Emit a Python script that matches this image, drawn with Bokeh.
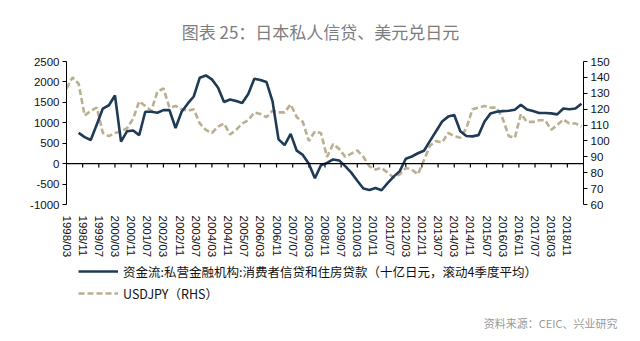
from bokeh.plotting import figure
from bokeh.layouts import column
from bokeh.models import (Range1d, LinearAxis, FixedTicker, Span, Label, Legend, LegendItem)
from bokeh.embed import file_html
from bokeh.resources import INLINE

# ---------------- data ----------------
title_text = "图表 25：日本私人信贷、美元兑日元"
source_text = "资料来源：CEIC、兴业研究"
series1_name = "资金流:私营金融机构:消费者信贷和住房贷款（十亿日元，滚动4季度平均）"
series2_name = "USDJPY（RHS）"

tick_labels = ["1998/03", "1998/11", "1999/07", "2000/03", "2000/11", "2001/07",
               "2002/03", "2002/11", "2003/07", "2004/03", "2004/11", "2005/07",
               "2006/03", "2006/11", "2007/07", "2008/03", "2008/11", "2009/07",
               "2010/03", "2010/11", "2011/07", "2012/03", "2012/11", "2013/07",
               "2014/03", "2014/11", "2015/07", "2016/03", "2016/11", "2017/07",
               "2018/03", "2018/11"]

# quarterly observations, months since 1998/03
usdjpy_start_month = 0
credit_start_month = 6

usdjpy = [133, 140, 136, 116, 119, 121, 105, 103, 105, 106,
          108, 114, 125, 122, 119, 131, 133, 121, 122, 120,
          119, 120, 111, 107, 105, 109, 111, 104, 107, 111,
          113, 118, 117, 115, 119, 118, 118, 123, 115, 112,
          100, 106, 105, 90, 98, 95, 90, 92, 94, 90,
          84, 82, 83, 80, 77, 79, 83, 82, 79, 88,
          97, 100, 99, 105, 103, 102, 108, 120, 121, 122,
          121, 121, 114, 103, 102, 117, 112, 112, 113, 113,
          107, 110, 113.5, 111, 111, 109]

credit = [754, 650, 579, 960, 1349, 1429, 1667, 540, 794, 810,
          698, 1270, 1270, 1246, 1310, 1310, 873, 1270, 1468, 1643,
          2103, 2159, 2063, 1865, 1508, 1571, 1532, 1484, 1706, 2079,
          2048, 2000, 1530, 595, 452, 730, 317, 214, 0, -357,
          -40, 16, 103, 79, -60, -220, -420, -610, -645, -595,
          -651, -476, -317, -183, 119, 175, 254, 317, 556, 794,
          1032, 1151, 1190, 794, 675, 667, 698, 1032, 1230, 1270,
          1286, 1294, 1320, 1444, 1325, 1286, 1238, 1238, 1230, 1206,
          1349, 1333, 1349, 1468]

left_ticks = [-1000, -500, 0, 500, 1000, 1500, 2000, 2500]
right_ticks = [60, 70, 80, 90, 100, 110, 120, 130, 140, 150]

# ---------------- geometry ----------------
W = 640
H_TITLE, H_MAIN, H_LEG = 50, 210, 81
FL, FR = 66, 583            # frame left/right (px)
FT_LOCAL, FH = 11, 147      # frame top inside main figure, frame height
X0, X1 = 0, 256
Y0, Y1 = -1000, 2500

x_usd = [usdjpy_start_month + 3 * i for i in range(len(usdjpy))]
x_cr = [credit_start_month + 3 * i for i in range(len(credit))]
tick_pos = [8 * i for i in range(len(tick_labels))]

BLUE = "#1f3a55"
TAN = "#bbaf91"
FONT = "Liberation Sans"
CJK = "Noto Sans CJK SC"
NAN = float("nan")


def blank_fig(h):
    # frame covers the whole strip; x data == page pixels
    f = figure(width=W, height=h, x_range=Range1d(0, W), y_range=Range1d(0, h),
               output_backend="svg", toolbar_location=None,
               x_axis_type=None, y_axis_type=None,
               min_border_left=0, min_border_right=0, min_border_top=0,
               min_border_bottom=0, frame_align=False)
    f.outline_line_color = None
    f.xgrid.visible = False
    f.ygrid.visible = False
    return f


# ---------------- title ----------------
ft = blank_fig(H_TITLE)
ft.add_layout(Label(x=W / 2, y=H_TITLE - 31, text=title_text,
                    text_align="center", text_baseline="middle",
                    text_font=CJK, text_font_size="17px", text_color="#7d7d7d"))

# ---------------- main chart ----------------
p = figure(width=W, height=H_MAIN, x_range=Range1d(X0, X1), y_range=Range1d(Y0, Y1),
           output_backend="svg", toolbar_location=None,
           min_border_left=FL, min_border_right=W - FR,
           min_border_top=FT_LOCAL, min_border_bottom=H_MAIN - FT_LOCAL - FH)
p.extra_y_ranges = {"rhs": Range1d(right_ticks[0], right_ticks[-1])}
p.outline_line_color = None
p.xgrid.visible = False
p.ygrid.visible = False

ya = p.yaxis[0]
ya.ticker = FixedTicker(ticks=left_ticks)
ya.major_label_overrides = {t: str(t) for t in left_ticks}
ra = LinearAxis(y_range_name="rhs", ticker=FixedTicker(ticks=right_ticks))
p.add_layout(ra, "right")
for ax in (ya, ra):
    ax.axis_line_color = "black"
    ax.major_tick_line_color = "black"
    ax.major_tick_in = 0
    ax.major_tick_out = 4
    ax.minor_tick_line_color = None
    ax.major_label_text_font = FONT
    ax.major_label_text_font_size = "11.5px"
    ax.major_label_text_color = "#111111"
    ax.major_label_standoff = 3

xa = p.xaxis[0]
xa.ticker = FixedTicker(ticks=tick_pos)
xa.major_label_overrides = {t: l for t, l in zip(tick_pos, tick_labels)}
xa.major_label_orientation = "vertical"
xa.axis_line_color = None
xa.major_tick_line_color = None
xa.minor_tick_line_color = None
xa.major_label_text_font = FONT
xa.major_label_text_font_size = "11.5px"
xa.major_label_text_color = "#111111"
xa.major_label_standoff = 5

# zero line with its tick marks
p.add_layout(Span(location=0, dimension="width", line_color="black", line_width=1.2))
tick_len = 4 * (Y1 - Y0) / FH
p.segment(x0=tick_pos[1:], y0=[0] * (len(tick_pos) - 1), x1=tick_pos[1:],
          y1=[-tick_len] * (len(tick_pos) - 1), line_color="black", line_width=1.2)

p.line(x_usd, usdjpy, y_range_name="rhs", line_color=TAN, line_width=2.6,
       line_dash="6 3")
p.line(x_cr, credit, line_color=BLUE, line_width=2.6)

# ---------------- legend + source ----------------
fl = blank_fig(H_LEG)
# legend proxies (draw nothing themselves)
lr1 = fl.line(x=[NAN], y=[NAN], line_color=BLUE, line_width=2.6)
lr2 = fl.line(x=[NAN], y=[NAN], line_color=TAN, line_width=2.6, line_dash="6 3")
legend = Legend(items=[LegendItem(label=series1_name, renderers=[lr1]),
                       LegendItem(label=series2_name, renderers=[lr2])],
                location=(78, 37), orientation="vertical")
legend.border_line_color = None
legend.background_fill_alpha = 0
legend.label_text_font = CJK
legend.label_text_font_size = "12.5px"
legend.label_text_color = "#111111"
legend.glyph_width = 40
legend.glyph_height = 22
legend.label_height = 22
legend.label_standoff = 5
legend.spacing = 0
legend.padding = 0
legend.margin = 0
fl.add_layout(legend)
fl.add_layout(Label(x=617, y=19, text=source_text,
                    text_align="right", text_baseline="middle",
                    text_font=CJK, text_font_size="11px", text_color="#999999"))

layout = column(ft, p, fl, spacing=0)
open("out.html", "w").write(file_html(layout, INLINE))
